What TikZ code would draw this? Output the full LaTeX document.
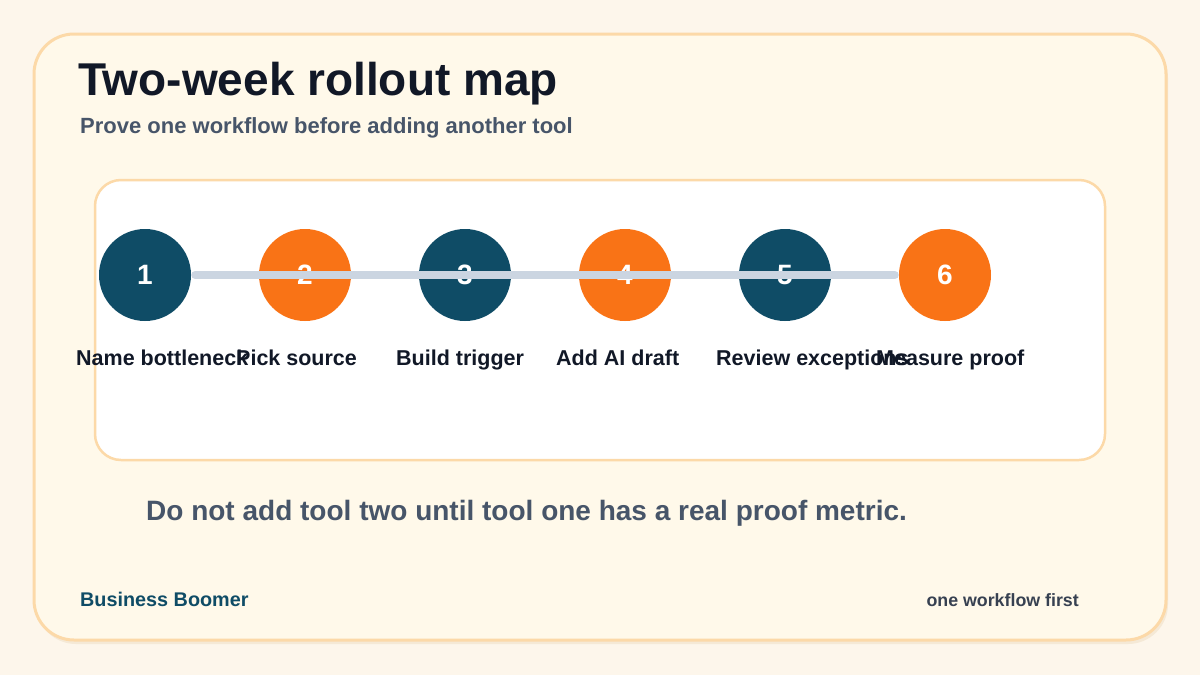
\documentclass[tikz,border=0pt]{standalone}
\usepackage{fontspec}
\setmainfont{Liberation Sans}
\definecolor{bg}{HTML}{FDF6EB}
\definecolor{card}{HTML}{FFF9EA}
\definecolor{cardline}{HTML}{FCD9A8}
\definecolor{shadowc}{HTML}{F5E9D6}
\definecolor{tealc}{HTML}{0F4C66}
\definecolor{orangec}{HTML}{F97316}
\definecolor{ink}{HTML}{111827}
\definecolor{slatec}{HTML}{475569}
\definecolor{grayc}{HTML}{374151}
\definecolor{rail}{HTML}{CBD5E1}
\begin{document}
\begin{tikzpicture}[x=1pt,y=-1pt,
  stepdot/.style={circle, minimum size=92pt, inner sep=0pt, text=white, font=\bfseries\fontsize{28}{28}\selectfont},
  darkdot/.style={stepdot, fill=tealc},
  orangedot/.style={stepdot, fill=orangec},
  steplabel/.style={font=\bfseries\fontsize{21.5}{24}\selectfont, text=ink, anchor=base west, inner sep=0pt},
  plain/.style={inner sep=0pt}
]
\useasboundingbox (0,0) rectangle (1200,675);
\fill[bg] (0,0) rectangle (1200,675);
% outer card with faint shadow
\fill[shadowc, rounded corners=40pt] (36,38) rectangle (1168,644);
\draw[cardline, line width=3pt, fill=card, rounded corners=40pt] (34,34) rectangle (1166,640);
% inner white panel
\draw[cardline, line width=2.5pt, fill=white, rounded corners=26pt] (95,180) rectangle (1105,460);
% title and subtitle
\node[plain, anchor=base west, text=ink, font=\bfseries\fontsize{46}{50}\selectfont] (title) at (78,95) {Two-week rollout map};
\node[plain, anchor=base west, text=slatec, font=\bfseries\fontsize{22}{25}\selectfont] (subtitle) at (80,133) {Prove one workflow before adding another tool};
% step circles
\node[darkdot] (s1) at (145,275) {1};
\node[orangedot] (s2) at (305,275) {2};
\node[darkdot] (s3) at (465,275) {3};
\node[orangedot] (s4) at (625,275) {4};
\node[darkdot] (s5) at (785,275) {5};
\node[orangedot] (s6) at (945,275) {6};
% rail on top
\draw[rail, line width=8pt, line cap=round, shorten <=4pt, shorten >=4pt] (s1.east) -- (s6.west);
% step labels
\node[steplabel] (l1) at (76,365) {Name bottleneck};
\node[steplabel] (l2) at (236,365) {Pick source};
\node[steplabel] (l3) at (396,365) {Build trigger};
\node[steplabel] (l4) at (556,365) {Add AI draft};
\node[steplabel] (l5) at (716,365) {Review exceptions};
\node[steplabel] (l6) at (876,365) {Measure proof};
% note
\node[plain, anchor=base west, text=slatec, font=\bfseries\fontsize{28}{32}\selectfont] (note) at (146,520) {Do not add tool two until tool one has a real proof metric.};
% footer
\node[plain, anchor=base west, text=tealc, font=\bfseries\fontsize{19.8}{22}\selectfont] (brand) at (80,606) {Business Boomer};
\node[plain, anchor=base east, text=grayc, font=\bfseries\fontsize{17.8}{20}\selectfont] (tag) at (1079,606) {one workflow first};
\end{tikzpicture}
\end{document}
